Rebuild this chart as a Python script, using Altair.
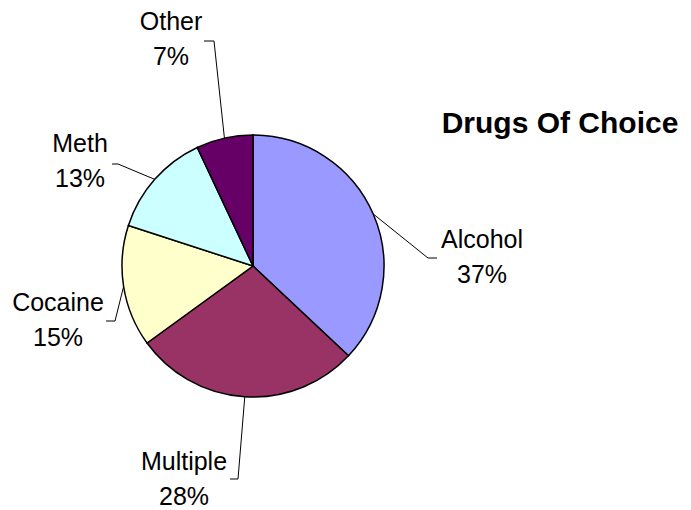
import math
import altair as alt
import pandas as pd

# ---- data ----
categories = ["Alcohol", "Multiple", "Cocaine", "Meth", "Other"]
values = [37, 28, 15, 13, 7]
colors = ["#9999FF", "#993366", "#FFFFCC", "#CCFFFF", "#660066"]
title_text = "Drugs Of Choice"

# ---- layout (image pixel coordinates) ----
W, H = 675, 502
CX, CY, R = 253, 266, 131
FONT = "Liberation Sans"
# label block centres, leader elbow and leader end (layout of data labels)
label_center = {"Alcohol": (482, 257.5), "Multiple": (184, 479.5), "Cocaine": (58, 320.5),
                "Meth": (80, 161.5), "Other": (171, 39.5)}
leader_elbow = {"Alcohol": (428, 258), "Multiple": (238, 479), "Cocaine": (115, 321),
                "Meth": (118, 164), "Other": (214, 41)}
leader_end = {"Alcohol": (437, 258), "Multiple": (230, 479), "Cocaine": (106, 321),
              "Meth": (112, 164), "Other": (204, 41)}

pie_df = pd.DataFrame({"cat": categories, "value": values, "idx": range(len(categories))})

total = sum(values)
cum = 0
line_rows, lab_rows = [], []
for c, v in zip(categories, values):
    mid = 2 * math.pi * (cum + v / 2) / total
    cum += v
    ex, ey = CX + R * math.sin(mid), CY - R * math.cos(mid)
    pts = [(ex, ey), leader_elbow[c], leader_end[c]]
    for i, (px, py) in enumerate(pts):
        line_rows.append({"cat": c, "o": i, "x": px, "y": py})
    lx, ly = label_center[c]
    lab_rows.append({"cat": c, "name": c, "pct": f"{round(100 * v / total)}%",
                     "x": lx, "yn": ly - 17.5, "yp": ly + 17.5})
line_df = pd.DataFrame(line_rows)
lab_df = pd.DataFrame(lab_rows)
title_df = pd.DataFrame({"t": [title_text], "x": [560], "y": [124]})

xs = alt.Scale(domain=[8, 8 + W], nice=False, zero=False)
ys = alt.Scale(domain=[8, 8 + H], nice=False, zero=False, reverse=True)

pie = alt.Chart(pie_df).mark_arc(radius=R, stroke="black", strokeWidth=1.5).encode(
    theta=alt.Theta("value:Q", stack=True),
    order=alt.Order("idx:Q", sort="ascending"),
    color=alt.Color("cat:N", scale=alt.Scale(domain=categories, range=colors), legend=None),
    x=alt.value(CX - 8),
    y=alt.value(CY - 8),
)

leaders = alt.Chart(line_df).mark_line(color="black", strokeWidth=1).encode(
    x=alt.X("x:Q", scale=xs, axis=None),
    y=alt.Y("y:Q", scale=ys, axis=None),
    detail="cat:N",
    order="o:Q",
)

names = alt.Chart(lab_df).mark_text(font=FONT, fontSize=25, color="black", baseline="middle").encode(
    x=alt.X("x:Q", scale=xs, axis=None),
    y=alt.Y("yn:Q", scale=ys, axis=None),
    text="name:N",
)
pcts = alt.Chart(lab_df).mark_text(font=FONT, fontSize=25, color="black", baseline="middle").encode(
    x=alt.X("x:Q", scale=xs, axis=None),
    y=alt.Y("yp:Q", scale=ys, axis=None),
    text="pct:N",
)
title = alt.Chart(title_df).mark_text(font=FONT, fontSize=30, fontWeight="bold", color="black",
                                       baseline="middle").encode(
    x=alt.X("x:Q", scale=xs, axis=None),
    y=alt.Y("y:Q", scale=ys, axis=None),
    text="t:N",
)

chart = alt.layer(leaders, pie, names, pcts, title).properties(
    width=W, height=H, padding=0, autosize=alt.AutoSizeParams(type="none"),
    background="white",
).configure_view(strokeWidth=0)

chart.save("out.html", embed_options={"renderer": "svg", "actions": False})
